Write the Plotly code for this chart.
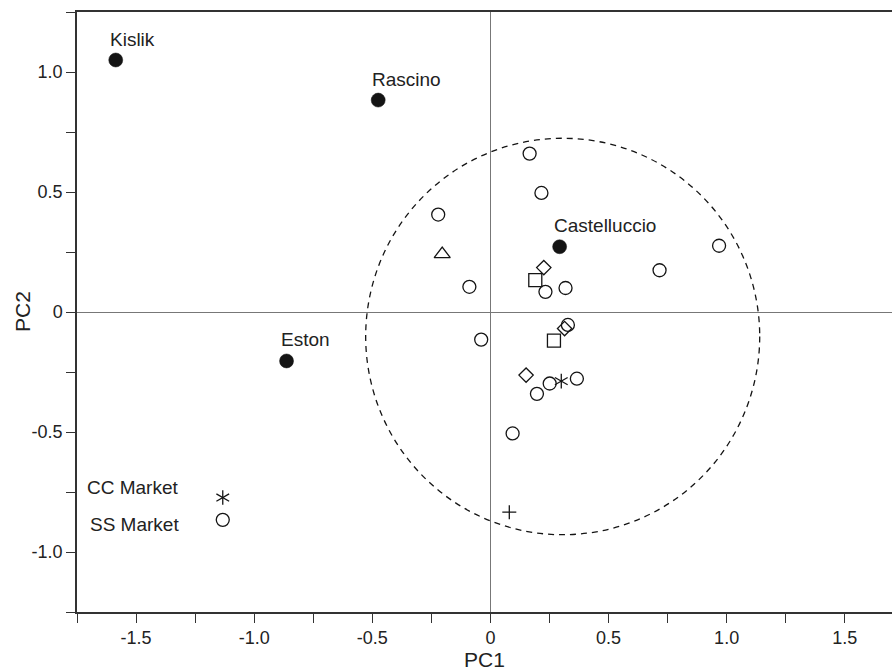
import plotly.graph_objects as go

# ---------------- data ----------------
open_x = [0.166, 0.216, -0.221, 0.968, 0.716, 0.233, 0.318, -0.089, 0.328, -0.039, 0.251, 0.366, 0.197, 0.094]
open_y = [0.660, 0.496, 0.406, 0.276, 0.174, 0.084, 0.100, 0.105, -0.054, -0.115, -0.298, -0.278, -0.341, -0.506]

square_x = [0.190, 0.269]
square_y = [0.133, -0.119]

diamond_x = [0.226, 0.314, 0.151]
diamond_y = [0.185, -0.069, -0.263]

triangle_x = [-0.204]
triangle_y = [0.241]

asterisk_x = [0.300]
asterisk_y = [-0.288]

plus_x = [0.080]
plus_y = [-0.834]

site_names = ["Kislik", "Rascino", "Castelluccio", "Eston"]
site_x = [-1.586, -0.475, 0.293, -0.863]
site_y = [1.050, 0.883, 0.272, -0.204]

market_names = ["CC Market", "SS Market"]
market_x = [-1.133, -1.133]
market_y = [-0.773, -0.866]

ellipse_x = [-0.528, 1.140]
ellipse_y = [-0.928, 0.724]

xtick_vals = [-1.5, -1.0, -0.5, 0, 0.5, 1.0, 1.5]
xtick_text = ["-1.5", "-1.0", "-0.5", "0", "0.5", "1.0", "1.5"]
ytick_vals = [-1.0, -0.5, 0, 0.5, 1.0]
ytick_text = ["-1.0", "-0.5", "0", "0.5", "1.0"]

x_title = "PC1"
y_title = "PC2"

# ---------------- styling ----------------
INK = "#141414"
FONT = "Liberation Sans, Arial, Helvetica, sans-serif"
LW = 1.3

fig = go.Figure()


def open_marker(symbol, size):
    return dict(symbol=symbol, size=size, color=INK,
                line=dict(color=INK, width=LW))


fig.add_trace(go.Scatter(x=open_x, y=open_y, mode="markers",
                         marker=open_marker("circle-open", 13)))
fig.add_trace(go.Scatter(x=square_x, y=square_y, mode="markers",
                         marker=open_marker("square-open", 13)))
fig.add_trace(go.Scatter(x=diamond_x, y=diamond_y, mode="markers",
                         marker=open_marker("diamond-open", 11)))
fig.add_trace(go.Scatter(x=triangle_x, y=triangle_y, mode="markers",
                         marker=open_marker("triangle-up-open", 14)))
fig.add_trace(go.Scatter(x=plus_x, y=plus_y, mode="markers",
                         marker=open_marker("cross-thin-open", 10)))

# six-armed asterisks (sample + CC market)
ast_x = asterisk_x + [market_x[0]]
ast_y = asterisk_y + [market_y[0]]
for ang in (0, 60, 120):
    fig.add_trace(go.Scatter(x=ast_x, y=ast_y, mode="markers",
                             marker=dict(symbol="line-ns-open", size=10.5, angle=ang,
                                         color=INK, line=dict(color=INK, width=LW))))

# SS market circle
fig.add_trace(go.Scatter(x=[market_x[1]], y=[market_y[1]], mode="markers",
                         marker=open_marker("circle-open", 13)))

# filled site circles
fig.add_trace(go.Scatter(x=site_x, y=site_y, mode="markers",
                         marker=dict(symbol="circle", size=14, color=INK,
                                     line=dict(color=INK, width=0.5))))

# site labels
for n, x, y in zip(site_names, site_x, site_y):
    fig.add_annotation(x=x, y=y, text=n, showarrow=False, xanchor="left",
                       yanchor="middle", xshift=-8, yshift=21,
                       font=dict(family=FONT, size=19, color="#222"))

# market labels
for n, x, y, ys in zip(market_names, market_x, market_y, [10, -5]):
    fig.add_annotation(x=x, y=y, text=n, showarrow=False, xanchor="right",
                       yanchor="middle", xshift=-42, yshift=ys,
                       font=dict(family=FONT, size=19, color="#222"))

# y axis title
fig.add_annotation(x=0, y=0.5, xref="paper", yref="paper", text=y_title,
                   showarrow=False, textangle=-90, xanchor="center", yanchor="middle",
                   xshift=-55, font=dict(family=FONT, size=21, color="#222"))

# dashed confidence ellipse
fig.add_shape(type="circle", xref="x", yref="y",
              x0=ellipse_x[0], x1=ellipse_x[1], y0=ellipse_y[0], y1=ellipse_y[1],
              line=dict(color=INK, width=1.3, dash="6px,5px"), layer="below")

axis_common = dict(
    showgrid=False, zeroline=True, zerolinecolor="#777", zerolinewidth=1.3,
    showline=True, linecolor="#333", linewidth=1.5, automargin=False,
    ticks="outside", ticklen=9, tickcolor="#333", tickwidth=1.3,
    tickfont=dict(family=FONT, size=18, color="#222"),
    minor=dict(ticks="outside", ticklen=9, tickcolor="#333", tickwidth=1.3, dtick=0.25),
)

fig.update_xaxes(range=[-1.75, 1.70], tickvals=xtick_vals, ticktext=xtick_text,
                 mirror=True, title=dict(text=x_title, font=dict(family=FONT, size=21, color="#222"),
                                         standoff=4),
                 **axis_common)
fig.update_yaxes(range=[-1.25, 1.25], tickvals=ytick_vals, ticktext=ytick_text,
                 **axis_common)

fig.update_layout(width=892, height=672, showlegend=False,
                  margin=dict(l=77, r=0, t=12, b=60),
                  plot_bgcolor="white", paper_bgcolor="white",
                  font=dict(family=FONT))

fig.write_html("out.html", config={"displayModeBar": False},
               post_script="document.body.style.margin='0';document.body.style.overflow='hidden';")
